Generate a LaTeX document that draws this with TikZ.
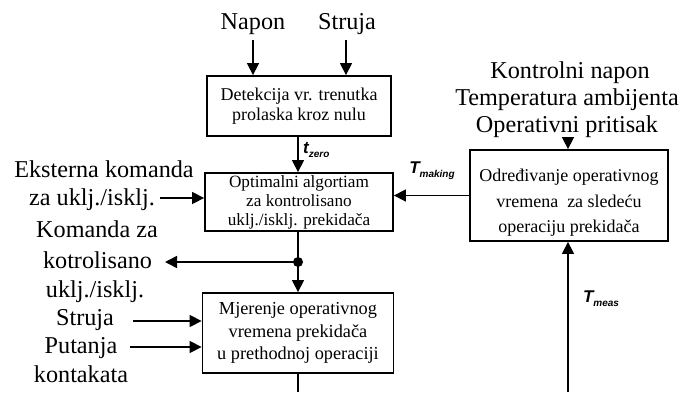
\documentclass[tikz,border=0pt]{standalone}
\usepackage{fontspec}
\setmainfont{Liberation Serif}
\newfontfamily\labfont{Liberation Sans}
\usetikzlibrary{arrows.meta}
\begin{document}
\begin{tikzpicture}[x=1pt,y=-1pt,
  box/.style={draw,line width=1.8pt,inner sep=0pt,align=center},
  arr/.style={line width=1.5pt,-{Triangle[length=12pt,width=12pt]}},
  ln/.style={line width=1.5pt},
  big/.style={font=\fontsize{24.2}{29}\selectfont,anchor=base,inner sep=0pt},
  sym/.style={font=\labfont\itshape\bfseries\fontsize{17}{17}\selectfont,inner sep=0pt},
]
\newcommand\subl[1]{\raisebox{-4pt}{\fontsize{10}{10}\selectfont #1}}
\useasboundingbox (0,0) rectangle (681,392);

% blocks
\node[box,minimum width=184pt,minimum height=60pt,font=\fontsize{18}{20}\selectfont]
  (det) at (299,106) {Detekcija vr. trenutka\\prolaska kroz nulu};
\node[box,minimum width=188pt,minimum height=58pt,font=\fontsize{17.2}{19}\selectfont]
  (alg) at (299,202) {Optimalni algortiam\\za kontrolisano\\uklj./isklj. prekidača};
\node[box,minimum width=191pt,minimum height=80pt,font=\fontsize{18.3}{22.5}\selectfont]
  (mje) at (298,333) {Mjerenje operativnog\\vremena prekidača\\u prethodnoj operaciji};
\node[box,minimum width=198pt,minimum height=91pt] (odr) at (569,195.5) {};
\node[align=center,inner sep=0pt,font=\fontsize{18}{25.5}\selectfont]
  (odrt) at (569,203) {Određivanje operativnog\\vremena\ \ za sledeću\\operaciju prekidača};

% input labels
\node[big] (nap) at (253,29) {Napon};
\node[big] (str) at (347,29) {Struja};
\node[big] (k1) at (570,78) {Kontrolni napon};
\node[big] (k2) at (567,105) {Temperatura ambijenta};
\node[big] (k3) at (567,132) {Operativni pritisak};
\node[big] (e1) at (104,177) {Eksterna komanda};
\node[big] (e2) at (92,205) {za uklj./isklj.};
\node[big] (c1) at (97,237) {Komanda za};
\node[big] (c2) at (97.5,268) {kotrolisano};
\node[big] (c3) at (95,297) {uklj./isklj.};
\node[big] (s1) at (85,325) {Struja};
\node[big] (p1) at (81,353) {Putanja};
\node[big] (p2) at (81,382) {kontakata};

% signal symbols
\node[sym,anchor=west] (tz) at (303,150) {t\subl{zero}};
\node[sym] (tmk) at (432,171) {T\subl{making}};
\node[sym] (tms) at (601,299) {T\subl{meas}};

% free ends
\coordinate (napS) at (253,40);
\coordinate (strS) at (346,40);
\coordinate (kS) at (568,137);
\coordinate (eS) at (160,198);
\coordinate (cE) at (165,262);
\coordinate (sS) at (133,321);
\coordinate (pS) at (130,347);
\coordinate (j) at (298,262);
\coordinate (mB) at (298,392);
\coordinate (tB) at (568,392);

% connectors
\draw[arr] (napS) -- (napS |- det.north);
\draw[arr] (strS) -- (strS |- det.north);
\draw[arr] (kS) -- (kS |- odr.north);
\draw[arr] (det.south -| j) -- (alg.north -| j);
\draw[arr] (eS) -- (eS -| alg.west);
\draw[arr] (odr.west) -- (odr.west -| alg.east);
\draw[ln] (alg.south -| j) -- (j);
\fill (j) circle (5pt);
\draw[arr] (j) -- (cE);
\draw[arr] (j) -- (mje.north -| j);
\draw[arr] (sS) -- (sS -| mje.west);
\draw[arr] (pS) -- (pS -| mje.west);
\draw[ln] (mje.south -| mB) -- (mB);
\draw[arr] (tB) -- (tB |- odr.south);
\end{tikzpicture}
\end{document}
